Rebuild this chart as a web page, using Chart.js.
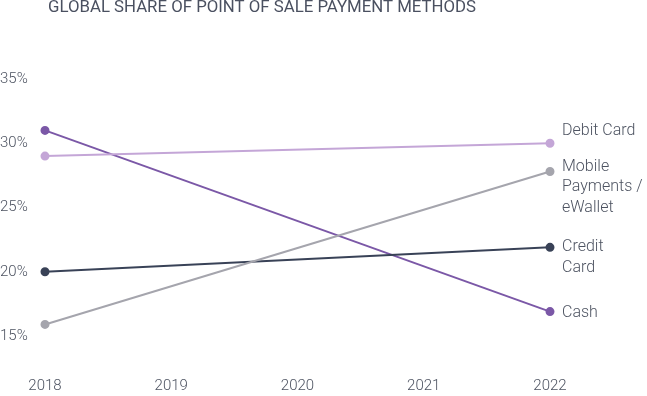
<!DOCTYPE html>
<html>
<head>
<meta charset="utf-8">
<script src="https://cdn.jsdelivr.net/npm/chart.js@4"></script>
<style>
html,body{margin:0;padding:0;background:#fff;}
#wrap{position:relative;width:647px;height:396px;}
</style>
</head>
<body>
<div id="wrap"><canvas id="c" width="647" height="396"></canvas></div>
<script>
const title = 'GLOBAL SHARE OF POINT OF SALE PAYMENT METHODS';
const years = ['2018', '2019', '2020', '2021', '2022'];
const seriesNames = ['Debit Card', 'Mobile Payments / eWallet', 'Credit Card', 'Cash'];
const endLabels = [['Debit Card'], ['Mobile', 'Payments /', 'eWallet'], ['Credit', 'Card'], ['Cash']];
const debitCard = [29.0, null, null, null, 30.0];
const mobilePayments = [15.9, null, null, null, 27.8];
const creditCard = [20.0, null, null, null, 21.9];
const cash = [31.0, null, null, null, 16.9];
const yTicks = [15, 20, 25, 30, 35];

const colors = ['#c4a6d7', '#a5a5ad', '#394257', '#7b58a7'];
const labelDy = [-12, -5, 0, 1];
const FONT = 'Roboto, "Noto Sans", sans-serif';
const textColor = '#4d5361';

const endLabelPlugin = {
  id: 'endLabels',
  afterDatasetsDraw(chart) {
    const ctx = chart.ctx;
    ctx.save();
    ctx.font = '300 16px ' + FONT;
    ctx.fillStyle = textColor;
    ctx.textAlign = 'left';
    ctx.textBaseline = 'middle';
    chart.data.datasets.forEach((ds, i) => {
      const meta = chart.getDatasetMeta(i);
      const pt = meta.data[meta.data.length - 1];
      endLabels[i].forEach((line, j) => {
        ctx.fillText(line, pt.x + 12, pt.y + labelDy[i] + j * 20.5);
      });
    });
    ctx.restore();
  }
};
const titlePlugin = {
  id: 'titleText',
  afterDraw(chart) {
    const ctx = chart.ctx;
    ctx.save();
    ctx.font = '400 16.8px ' + FONT;
    ctx.fillStyle = '#4a5060';
    ctx.textAlign = 'left';
    ctx.textBaseline = 'middle';
    ctx.fillText(title, 48, 8);
    ctx.restore();
  }
};

const datasets = [debitCard, mobilePayments, creditCard, cash].map((d, i) => ({
  label: seriesNames[i],
  data: d,
  borderColor: colors[i],
  backgroundColor: colors[i],
  pointBackgroundColor: colors[i],
  pointBorderColor: colors[i],
  pointRadius: 3.5,
  borderWidth: 2,
  spanGaps: true,
  tension: 0
}));

new Chart(document.getElementById('c'), {
  type: 'line',
  data: { labels: years, datasets },
  options: {
    responsive: false,
    animation: false,
    layout: { padding: { top: 79, right: 97, bottom: 0, left: 0 } },
    plugins: { legend: { display: false }, tooltip: { enabled: false }, title: { display: false } },
    scales: {
      x: {
        offset: false,
        grid: { display: false, drawTicks: false },
        border: { display: false },
        ticks: { color: textColor, font: { family: FONT, size: 15, weight: 300 }, padding: 41, maxRotation: 0, autoSkip: false },
        afterFit(s) { s.height = 60; s.paddingLeft = 0; s.paddingRight = 0; }
      },
      y: {
        min: 15, max: 35,
        grid: { display: false, drawTicks: false },
        border: { display: false },
        afterBuildTicks(s) { s.ticks = yTicks.map(v => ({ value: v })); },
        ticks: { color: textColor, crossAlign: 'far', font: { family: FONT, size: 15, weight: 300 }, callback: v => v + '%' },
        afterFit(s) { s.width = 45; s.paddingTop = 0; s.paddingBottom = 0; }
      }
    }
  },
  plugins: [endLabelPlugin, titlePlugin]
});
</script>
</body>
</html>
